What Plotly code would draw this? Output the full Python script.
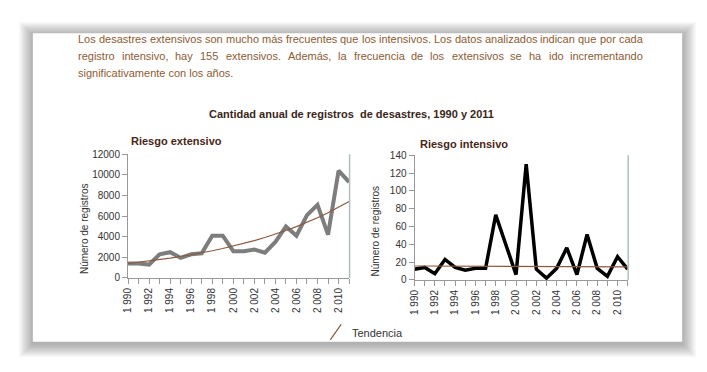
import numpy as np
import plotly.graph_objects as go

years = list(range(1990, 2012))
extensivo = [1400, 1400, 1300, 2300, 2500, 1950, 2300, 2400, 4100, 4100, 2600,
             2600, 2750, 2450, 3500, 5000, 4100, 6100, 7100, 4200, 10400, 9300]
intensivo = [12, 14, 7, 23, 14, 11, 13, 13, 73, 40, 6,
             130, 12, 2, 13, 36, 6, 51, 13, 4, 26, 12]
tick_years = list(range(1990, 2011, 2))
tick_text = [f"{str(y)[0]} {str(y)[1:]}" for y in tick_years]

paragraph_line1 = "Los desastres extensivos son mucho más frecuentes que los intensivos. Los datos analizados indican que por cada"
paragraph_line2 = "registro intensivo, hay 155 extensivos. Además, la frecuencia de los extensivos se ha ido incrementando"
paragraph_line3 = "significativamente con los años."
main_title = "Cantidad anual de registros  de desastres, 1990 y 2011"
sub_titles = ["Riesgo extensivo", "Riesgo intensivo"]
y_title = "Número de registros"
legend_label = "Tendencia"


def exp_trend(x, y):
    x = np.array(x, dtype=float)
    b, a = np.polyfit(x - x[0], np.log(np.array(y, dtype=float)), 1)
    return list(np.exp(a + b * (x - x[0])))


# approximate Arial / Liberation Sans advance widths (per 1000 em) for justification
_AW = dict(zip("abcdefghijklmnopqrstuvwxyz",
               [556, 556, 500, 556, 556, 278, 556, 556, 222, 222, 500, 222, 833,
                556, 556, 556, 556, 333, 500, 278, 556, 500, 722, 500, 500, 500]))
_AW.update({"A": 667, "L": 556, ".": 278, ",": 278, " ": 278, "á": 556, "é": 556,
            "ñ": 556, "í": 222, "ó": 556})
for d in "0123456789":
    _AW[d] = 556


def text_w(s, size):
    return sum(_AW.get(c, 556) for c in s) * size / 1000.0


# the browser page has an 8px body margin: work in screen pixels and shift
OFF = 8
W, H = 707 - OFF, 372 - OFF
FONT = "Liberation Sans, Arial"
BG = "#bfdad8"
TREND = "#8b5a3c"
TEXT_BROWN = "#8d5c32"
PSIZE = 11


def px(x):
    return (x - OFF) / W


def py(y):
    return 1 - (y - OFF) / H


fig = go.Figure()

fig.add_trace(go.Scatter(x=years, y=extensivo, mode="lines",
                         line=dict(color="#7d7d7d", width=4), xaxis="x", yaxis="y",
                         showlegend=False))
fig.add_trace(go.Scatter(x=years, y=exp_trend(years, extensivo), mode="lines",
                         line=dict(color=TREND, width=1.2), xaxis="x", yaxis="y",
                         showlegend=False))
fig.add_trace(go.Scatter(x=years, y=intensivo, mode="lines",
                         line=dict(color="#000000", width=3.5), xaxis="x2", yaxis="y2",
                         showlegend=False))
fig.add_trace(go.Scatter(x=years, y=exp_trend(years, intensivo), mode="lines",
                         line=dict(color=TREND, width=1.2), xaxis="x2", yaxis="y2",
                         showlegend=False))

xcommon = dict(range=[1990, 2011], tickmode="array", tickvals=tick_years, ticktext=tick_text,
               tickangle=-90, ticks="outside", ticklen=5, tickcolor="#999999",
               showline=True, linecolor="#999999", linewidth=1, showgrid=False,
               minor=dict(dtick=1, ticks="outside", ticklen=5, tickcolor="#999999", showgrid=False),
               tickfont=dict(size=10, color="#333333", family=FONT), zeroline=False)
ycommon = dict(ticks="outside", ticklen=5, tickcolor="#999999", showline=True,
               linecolor="#999999", linewidth=1, gridcolor="#ffffff", gridwidth=1.5,
               tickformat="d", tickfont=dict(size=10, color="#333333", family=FONT),
               zeroline=False)

L1 = (123, 346, 153, 281)
L2 = (412, 627, 154, 283)

fig.update_layout(
    width=W, height=H, margin=dict(l=0, r=0, t=0, b=0),
    paper_bgcolor="white", plot_bgcolor=BG, showlegend=False,
    xaxis=dict(domain=[px(L1[0]), px(L1[1])], anchor="y", **xcommon),
    yaxis=dict(domain=[py(L1[3]), py(L1[2])], anchor="x", range=[0, 12000], dtick=2000, **ycommon),
    xaxis2=dict(domain=[px(L2[0]), px(L2[1])], anchor="y2", **xcommon),
    yaxis2=dict(domain=[py(L2[3]), py(L2[2])], anchor="x2", range=[0, 140], dtick=20, **ycommon),
)

shapes = []
# card shadow
for i in range(14, 0, -1):
    shapes.append(dict(type="rect", xref="paper", yref="paper", layer="below",
                       x0=px(27 - i), x1=px(682 + i), y0=py(347 + i + 2), y1=py(28 - i + 2),
                       fillcolor="rgba(0,0,0,0.022)", line=dict(width=0)))
shapes.append(dict(type="rect", xref="paper", yref="paper", layer="below",
                   x0=px(27), x1=px(682), y0=py(347), y1=py(28),
                   fillcolor="white", line=dict(width=0)))
# legend symbol
shapes.append(dict(type="line", xref="paper", yref="paper",
                   x0=px(327), y0=py(345), x1=px(338), y1=py(329),
                   line=dict(color=TREND, width=1.2)))
# plot right edge shading
for (x0, x1, y0, y1) in (L1, L2):
    shapes.append(dict(type="line", xref="paper", yref="paper",
                       x0=px(x1 + 0.5), x1=px(x1 + 0.5), y0=py(y1), y1=py(y0),
                       line=dict(color="#b0bebe", width=1.5)))

ann = []


def justified(line, ypix, left=71, right=640, size=PSIZE):
    words = line.split(" ")
    widths = [text_w(w, size) for w in words]
    gap = (right - left - sum(widths)) / (len(words) - 1)
    x = left
    for w, wd in zip(words, widths):
        ann.append(dict(text=w, x=px(x), y=py(ypix), xanchor="left", yanchor="middle",
                        font=dict(size=size, color=TEXT_BROWN, family=FONT)))
        x += wd + gap


justified(paragraph_line1, 34)
justified(paragraph_line2, 51)
ann.append(dict(text=paragraph_line3, x=px(71), y=py(69), xanchor="left", yanchor="middle",
                font=dict(size=PSIZE, color=TEXT_BROWN, family=FONT)))

ann.append(dict(text="<b>" + main_title + "</b>", x=px(348), y=py(111), xanchor="center",
                yanchor="middle", font=dict(size=11, color="#3a2618", family=FONT)))
ann.append(dict(text="<b>" + sub_titles[0] + "</b>", x=px(124), y=py(139), xanchor="left",
                yanchor="middle", font=dict(size=11, color="#4a2616", family=FONT)))
ann.append(dict(text="<b>" + sub_titles[1] + "</b>", x=px(416), y=py(142), xanchor="left",
                yanchor="middle", font=dict(size=11, color="#4a2616", family=FONT)))
ann.append(dict(text=y_title, x=px(79), y=py(230), xanchor="center", yanchor="middle",
                textangle=-90, font=dict(size=10, color="#333333", family=FONT)))
ann.append(dict(text=y_title, x=px(373), y=py(232), xanchor="center", yanchor="middle",
                textangle=-90, font=dict(size=10, color="#333333", family=FONT)))
ann.append(dict(text=legend_label, x=px(347), y=py(338), xanchor="left", yanchor="middle",
                font=dict(size=11, color="#333333", family=FONT)))
for a in ann:
    a.update(xref="paper", yref="paper", showarrow=False)

fig.update_layout(shapes=shapes, annotations=ann)
fig.write_html("out.html")
